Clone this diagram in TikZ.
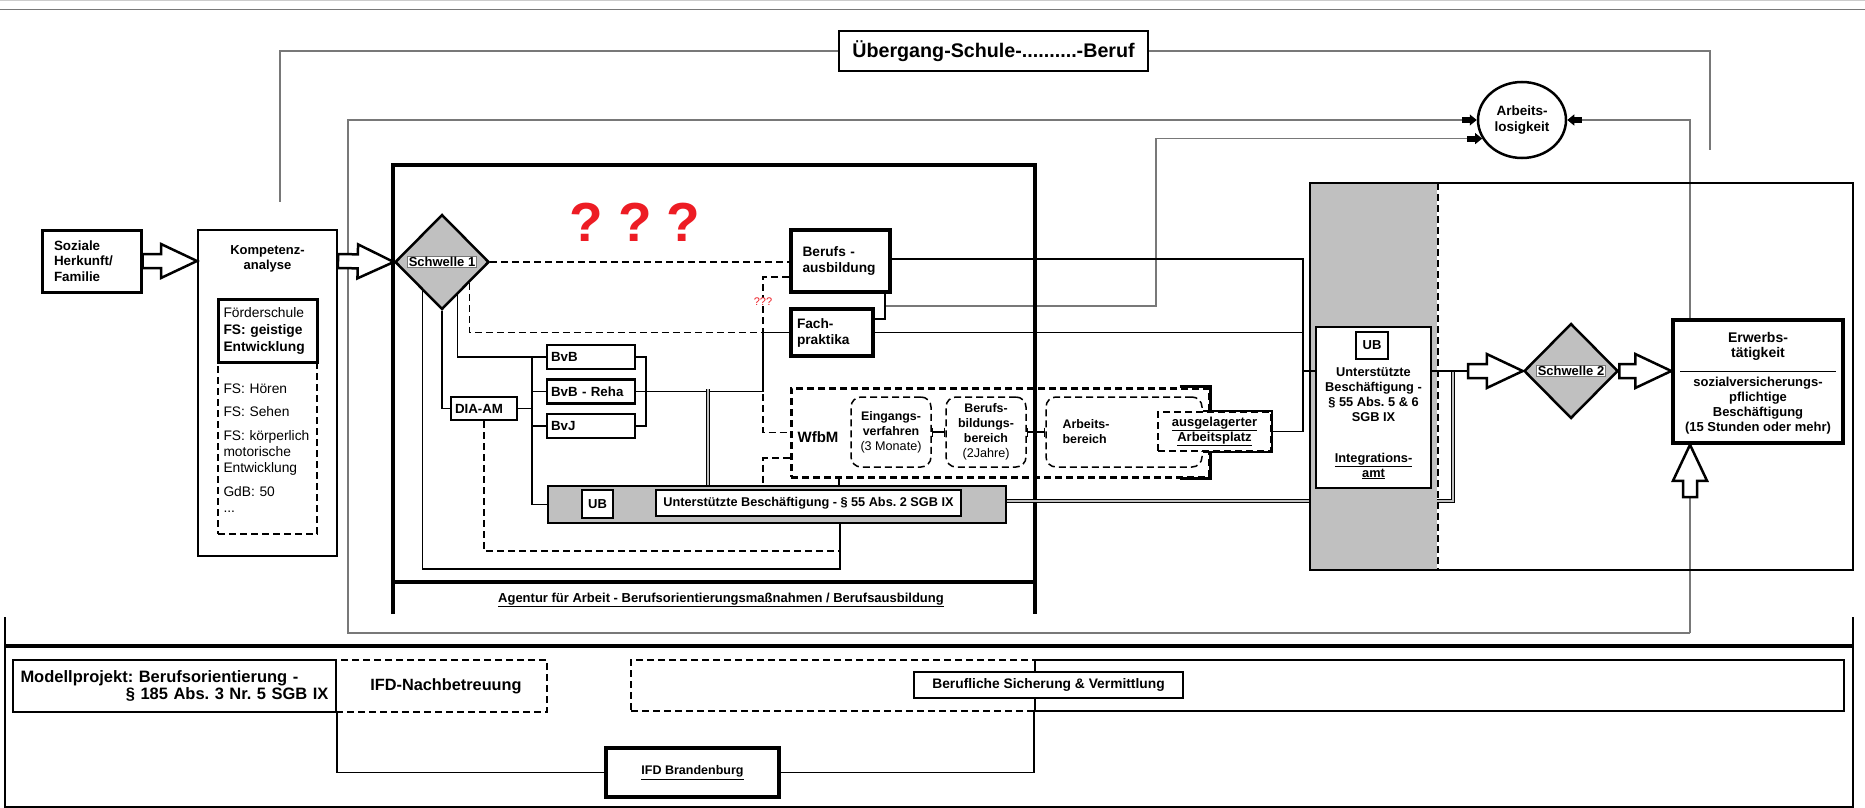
\documentclass[tikz,border=0pt]{standalone}
\usepackage{fontspec}
\setmainfont{Liberation Sans}
\usetikzlibrary{positioning,calc,shapes.geometric,arrows.meta}
\definecolor{feldgrau}{RGB}{192,192,192}
\definecolor{linie}{RGB}{120,120,120}
\definecolor{fragerot}{RGB}{237,28,36}
\frenchspacing

\begin{document}
\begin{tikzpicture}[x=1pt, y=-1pt, line width=1.5pt,
  kasten/.style={draw, line width=2pt, fill=white, inner sep=0pt, align=center, font=\bfseries\fontsize{13}{15}\selectfont},
  kurs/.style={kasten, line width=2.5pt, minimum width=88pt, minimum height=24pt, text width=80pt, align=left, font=\bfseries\fontsize{13.3}{14}\selectfont},
  runde/.style={draw, strich, line width=1.5pt, rounded corners=10pt, inner sep=0pt, minimum width=80pt, minimum height=70pt, align=center, font=\bfseries\fontsize{12.4}{15}\selectfont},
  raute/.style={diamond, draw, line width=2.5pt, fill=feldgrau, inner sep=0pt, minimum width=94pt, minimum height=95pt},
  schild/.style={draw=linie, line width=0.6pt, fill=white, inner sep=1pt, font=\bfseries\fontsize{13}{13}\selectfont},
  grau/.style={draw=linie, line width=1.2pt},
  strich/.style={dash pattern=on 7pt off 4pt},
  spitze/.style={-{Rectangle[length=8pt,width=6pt,color=black]Triangle[length=7pt,width=11pt,color=black]}},
  band/.style={line width=0.9pt, double=feldgrau, double distance=2.5pt},
  steg/.style={line width=1.5pt, {Bar[width=9pt]}-{Bar[width=9pt]}},
  fett/.style={line width=2.5pt, fill=white, line join=miter, to path={
    ($(\tikztostart)!7pt!90:(\tikztotarget)$)
    -- ($(\tikztotarget)!36pt!(\tikztostart)!7pt!90:(\tikztotarget)$)
    -- ($(\tikztotarget)!36pt!(\tikztostart)!17pt!90:(\tikztotarget)$)
    -- (\tikztotarget)
    -- ($(\tikztotarget)!36pt!(\tikztostart)!17pt!-90:(\tikztotarget)$)
    -- ($(\tikztotarget)!36pt!(\tikztostart)!7pt!-90:(\tikztotarget)$)
    -- ($(\tikztostart)!7pt!-90:(\tikztotarget)$) -- cycle}}]

  \useasboundingbox (0,0) rectangle (1865,808);
  \fill[white] (0,0) rectangle (1865,808);
  \draw[black!20, line width=1pt] (0,1) -- (1865,1);
  \draw[linie, line width=1.5pt] (0,9.5) -- (1865,9.5);

  \node[kasten, minimum width=309pt, minimum height=40pt, font=\bfseries\fontsize{19.7}{22}\selectfont] (ueber) at (993.5,51) {Übergang-Schule-..........-Beruf};
  \node[ellipse, draw, line width=2.5pt, fill=white, minimum width=88pt, minimum height=76pt, inner sep=0pt, align=center, font=\bfseries\fontsize{13.5}{16}\selectfont] (alo) at (1522,120) {Arbeits-\\losigkeit};

  \coordinate (gl) at (280,202);
  \coordinate (gr) at (1710,150);
  \draw[grau] (ueber.west) -| (gl);
  \draw[grau] (ueber.east) -| (gr);

  \coordinate (fr) at (1690,633);
  \draw[grau, spitze] (fr) |- (alo.east);
  \draw[grau, spitze] (fr) -| (348,120) -- (alo.west);
  \coordinate (bf) at (885,306);
  \draw[grau, spitze] (bf) -- (1156,306) |- (alo.205);

  \node[kasten, line width=3pt, minimum width=99pt, minimum height=62pt, text width=75pt, align=left, font=\bfseries\fontsize{13.4}{15.5}\selectfont] (soz) at (91.5,261) {Soziale\\Herkunft/\\Familie};
  \node[kasten, minimum width=139pt, minimum height=326pt] (komp) at (267.5,393) {};
  \node[inner sep=0pt, align=center, font=\bfseries\fontsize{13}{15}\selectfont, below=16pt of komp.north] (kompt) {Kompetenz-\\analyse};
  \node[draw, strich, line width=2.5pt, minimum width=99pt, minimum height=172pt, inner sep=0pt, text width=88pt, align=left, font=\fontsize{13.8}{16}\selectfont] (fsl) at (267.5,448) {FS: Hören\\[7pt]FS: Sehen\\[8pt]FS: körperlich\\motorische\\Entwicklung\\[8pt]GdB: 50\\...};
  \node[draw, fill=white, line width=3pt, minimum width=99pt, minimum height=63pt, inner sep=0pt, text width=88pt, align=left, font=\fontsize{13.8}{17}\selectfont] (foerd) at (267.5,330.5) {Förderschule\\\textbf{FS: geistige}\\\textbf{Entwicklung}};

  \coordinate (ag1) at (393,614);
  \coordinate (ag2) at (1035,165);
  \coordinate (ag3) at (393,582);
  \draw[line width=4.5pt] (ag1) |- (ag2) -- (ag2 |- ag1);
  \draw[line width=3.5pt] (ag3) -- (ag3 -| ag2);
  \node[font=\bfseries\fontsize{13}{14}\selectfont] (agt) at (721,600) {\underline{Agentur für Arbeit - Berufsorientierungsmaßnahmen / Berufsausbildung}};

  \node[raute] (s1) at (442,262) {};
  \node[schild] (s1t) at (s1) {Schwelle 1};
  \draw[fett] (soz.east) to (komp.west |- soz.east);
  \draw[fett] (komp.east |- soz.east) to (s1.west);

  \node[text=fragerot, font=\bfseries\fontsize{55}{55}\selectfont] (fragen) at (635,222) {?\hspace{15pt}?\hspace{15pt}?};

  \node[kasten, line width=4pt, minimum width=99pt, minimum height=62pt, text width=76pt, align=left, font=\bfseries\fontsize{13.7}{16}\selectfont] (bausb) at (840.5,261) {Berufs -\\ausbildung};
  \node[kasten, line width=4pt, minimum width=82pt, minimum height=47pt, text width=70pt, align=left, font=\bfseries\fontsize{13.7}{16}\selectfont] (fach) at (832,332.5) {Fach-\\praktika};

  \node[kurs] (bvb) at (591,357) {BvB};
  \node[kurs, below=8pt of bvb] (bvbr) {BvB - Reha};
  \node[kurs, below=8pt of bvbr] (bvj) {BvJ};
  \node[kurs, minimum width=66pt, minimum height=23pt, text width=58pt] (dia) at (484,408.5) {DIA-AM};

  \node[draw, line width=2.5pt, fill=feldgrau, minimum width=458pt, minimum height=37pt] (ubbar) at (777,504.5) {};
  \node[kasten, minimum width=31pt, minimum height=28pt] (ub1) at (597.5,504) {UB};
  \node[kasten, minimum width=305pt, minimum height=26pt, font=\bfseries\fontsize{12.7}{13}\selectfont] (ubtext) at (808.5,503) {Unterstützte Beschäftigung - § 55 Abs. 2 SGB IX};

  \node[draw, strich, line width=3pt, minimum width=418pt, minimum height=89pt] (wfbm) at (1000,432.5) {};
  \draw[line width=3pt] ($(wfbm.north east)+(-31,0)$) -| (wfbm.south east) -- ++(-31,0);
  \node[font=\bfseries\fontsize{15}{15}\selectfont] (wfbmt) at (818,437) {WfbM};
  \node[runde] (eingang) at (891,432) {Eingangs-\\verfahren\\{\mdseries\fontsize{12.6}{14}\selectfont(3 Monate)}};
  \node[runde] (bbb) at (986,432) {Berufs-\\bildungs-\\bereich\\{\mdseries\fontsize{12.6}{14}\selectfont(2Jahre)}};
  \node[runde, minimum width=156pt] (abereich) at (1124,432) {};
  \node[align=left, font=\bfseries\fontsize{12.4}{15}\selectfont] (abt) at (1086,432) {Arbeits-\\bereich};
  \node[kasten, strich, minimum width=113pt, minimum height=39pt] (ausgel) at (1214.5,431.5) {\underline{ausgelagerter}\\\underline{Arbeitsplatz}};
  \draw[line width=2pt] (abereich.east |- ausgel.north) -| (ausgel.south east) -- (abereich.east |- ausgel.south);
  \draw[steg] (eingang.east) -- (bbb.west);
  \draw[steg] (bbb.east) -- (abereich.west);

  \draw[line width=1.5pt] ($(s1.west)!0.6!(s1.south)$) |- (840,569) coordinate (ua) -- (ua |- ubbar.south);
  \draw (s1.south) |- (dia.west);
  \draw ($(s1.south)!0.32!(s1.east)$) |- (bvb.west);
  \coordinate (jf) at (763,332.5);
  \draw[strich] ($(s1.south)!0.57!(s1.east)$) |- (jf);
  \draw (jf) -- (fach.west);
  \draw[strich] (s1.east) -- (bausb.west |- s1.east);
  \coordinate (bus) at (532,357);
  \draw (bus) |- (ubbar.west);
  \draw (dia.east) -- (dia.east -| bus);
  \draw (bus |- bvbr.west) -- (bvbr.west);
  \draw (bus |- bvj.west) -- (bvj.west);
  \coordinate (kl) at (646,357);
  \draw (bvb.east) -- (kl) |- (bvj.east);
  \draw (bvbr.east) -| (jf);
  \coordinate (dv) at (708,389);
  \draw[band] (dv) -- (dv |- ubbar.north);
  \coordinate (ud) at (840,551);
  \draw[strich] (dia.south) |- (ud);
  \coordinate (jw) at (763,277);
  \draw[strich] (bausb.west |- jw) -- (jw) |- (wfbm.west);
  \coordinate (jw2) at (763,458);
  \draw[strich] (wfbm.west |- jw2) -- (jw2) -- (jw2 |- ubbar.north);
  \coordinate (wb) at (839,477);
  \draw (wb) -- (wb |- ubbar.north);
  \coordinate (bk) at (885,319);
  \draw (bausb.south -| bk) -- (bk) -- (fach.east |- bk);
  \node[text=fragerot, fill=white, inner sep=0.5pt, font=\fontsize{11}{11}\selectfont] (frklein) at (763,302) {???};

  \coordinate (pf) at (1468,371);
  \coordinate (bd) at (1453,501);
  \draw[band] (ubbar.east |- bd) -- (bd) -- (bd |- pf);
  \node[draw, line width=2pt, minimum width=543pt, minimum height=387pt] (rbox) at (1581.5,376.5) {};
  \node[fill=feldgrau, minimum width=126pt, minimum height=385pt, anchor=north west, inner sep=0pt] (rcol) at ($(rbox.north west)+(1,1)$) {};
  \draw[strich, line width=2pt] (rcol.north east) -- (rcol.south east);

  \coordinate (rv) at (1303,259);
  \draw (bausb.east |- rv) -- (rv) |- (ausgel.east);
  \draw (fach.east) -- (fach.east -| rv);
  \draw (rv |- pf) -- (1316,371);

  \node[kasten, minimum width=115pt, minimum height=161pt] (ub2) at (1373.5,407.5) {};
  \node[kasten, minimum width=32pt, minimum height=27pt] (ub2k) at (1372,345.5) {UB};
  \node[align=center, font=\bfseries\fontsize{12.8}{15}\selectfont] (ub2t) at (1373.5,395) {Unterstützte\\Beschäftigung -\\§ 55 Abs. 5 \& 6\\SGB IX};
  \node[align=center, font=\bfseries\fontsize{12.8}{15}\selectfont] (integ) at (1373.5,466) {\underline{Integrations-}\\\underline{amt}};

  \node[raute] (s2) at (1571,371) {};
  \node[schild] (s2t) at (s2) {Schwelle 2};
  \node[kasten, line width=3.5pt, minimum width=170pt, minimum height=123pt] (erwerb) at (1758,381.5) {};
  \node[align=center, font=\bfseries\fontsize{14}{15.5}\selectfont] (erw1) at (1758,346.5) {Erwerbs-\\tätigkeit};
  \draw[line width=0.8pt] (1680,371) -- (1836,371);
  \node[align=center, font=\bfseries\fontsize{13}{15}\selectfont] (erw2) at (1758,406) {sozialversicherungs-\\pflichtige\\Beschäftigung\\(15 Stunden oder mehr)};

  \draw (ub2.east |- pf) -- (pf);
  \draw[fett] (pf) to (s2.west);
  \draw[fett] (s2.east) to (erwerb.west |- s2.east);
  \coordinate (pu) at (1690,497);
  \draw[fett] (pu) to (pu |- erwerb.south);

  \coordinate (ul) at (5,617);
  \coordinate (ur) at (1853,807);
  \draw[line width=2.5pt] (ul) |- (ur) -- (ur |- ul);
  \draw[line width=3.5pt] (ul |- 0,646) -- (ur |- 0,646);

  \node[draw, strich, line width=2pt, minimum width=211pt, minimum height=52pt, inner sep=0pt] (ifdn) at (441.5,686) {};
  \node[font=\bfseries\fontsize{16.3}{17}\selectfont] (ifdnt) at (446,686) {IFD-Nachbetreuung};
  \node[kasten, minimum width=323pt, minimum height=52pt, text width=308pt, align=left, font=\bfseries\fontsize{16.5}{17.5}\selectfont] (modell) at (174.5,686) {Modellprojekt: Berufsorientierung -\\\mbox{}\hfill § 185 Abs. 3 Nr. 5 SGB IX};
  \node[draw, strich, line width=2pt, minimum width=404pt, minimum height=51pt] (sichd) at (833,685.5) {};
  \node[draw, line width=2pt, minimum width=809pt, minimum height=51pt] (sich) at (1439.5,685.5) {};
  \node[kasten, minimum width=269pt, minimum height=26pt, font=\bfseries\fontsize{13.8}{15}\selectfont] (bsv) at (1048.5,685) {Berufliche Sicherung \& Vermittlung};
  \node[kasten, line width=3.5pt, minimum width=173pt, minimum height=49pt, font=\bfseries\fontsize{12.5}{13}\selectfont] (ifdb) at (692.5,772.5) {\underline{IFD Brandenburg}};
  \draw (modell.south east) |- (ifdb.west);
  \draw (ifdb.east) -| (sich.south west);
\end{tikzpicture}
\end{document}
